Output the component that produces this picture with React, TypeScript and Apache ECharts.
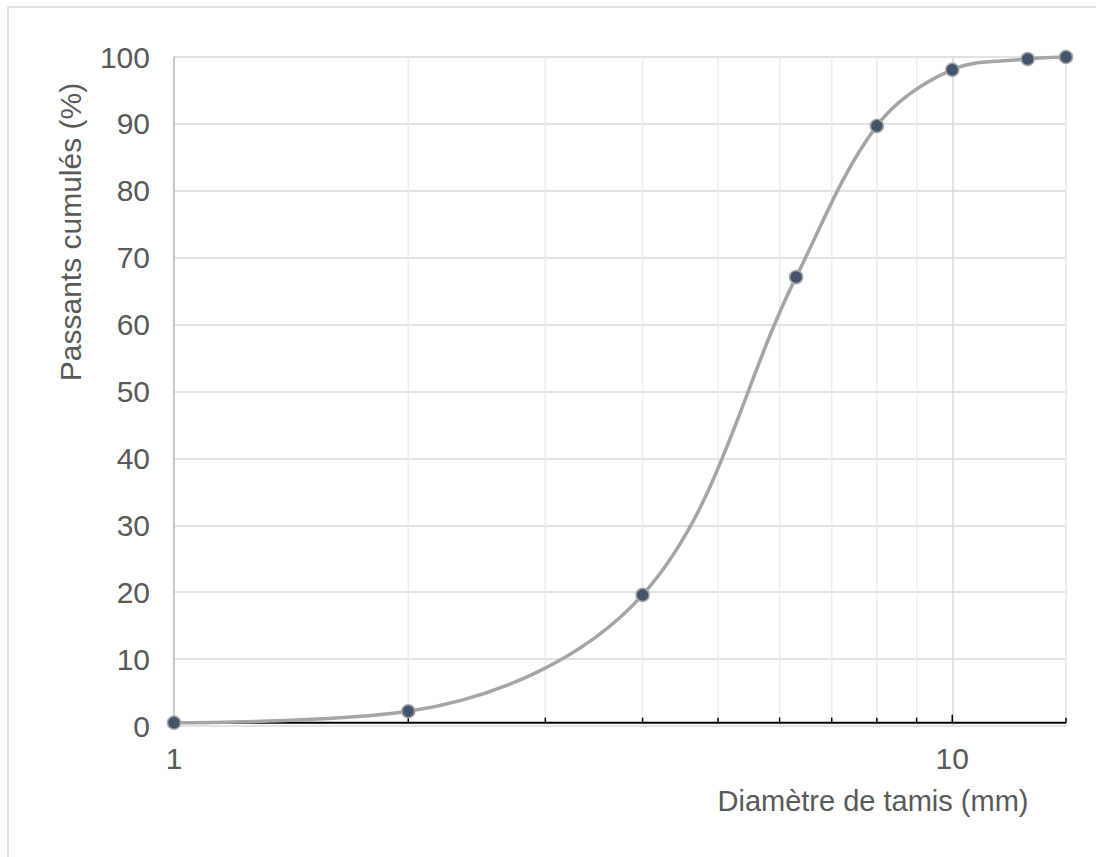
import React, { useEffect, useRef } from "react";
import * as echarts from "echarts";

// Data
const diameters = [1, 2, 4, 6.3, 8, 10, 12.5, 14];
const passing = [0.5, 2.2, 19.6, 67.1, 89.7, 98.1, 99.7, 100];
const xMin = 1;
const xMax = 14;
const xLabelsShown = [1, 10];
const minorGridValues = [2, 3, 4, 5, 6, 7, 8, 9, 14];
const tickValues = [1, 2, 3, 4, 5, 6, 7, 8, 9, 10, 14];
const majorTickValues = [10];
const axisCross = 0.5;
const yTitle = "Passants cumulés (%)";
const xTitle = "Diamètre de tamis (mm)";

const TEXT = "#595959";
const FONT = "'Liberation Sans', Arial, sans-serif";

export default function App() {
  const ref = useRef<HTMLDivElement>(null);
  useEffect(() => {
    if (!ref.current) return;
    const chart = echarts.init(ref.current, undefined, { renderer: "svg" });
    chart.setOption({
      animation: false,
      backgroundColor: "#ffffff",
      textStyle: { fontFamily: FONT },
      grid: { left: 174, right: 30, top: 57, bottom: 131 },
      xAxis: {
        type: "log",
        logBase: 10,
        min: xMin,
        max: xMax,
        axisLine: { show: false },
        axisTick: { show: false },
        splitLine: { show: true, lineStyle: { color: "#d9d9d9", width: 1.5 } },
        axisLabel: {
          color: TEXT,
          fontSize: 30,
          fontFamily: FONT,
          margin: 17,
          showMaxLabel: false,
          formatter: (v: number) =>
            xLabelsShown.some((s) => Math.abs(s - v) < 1e-6) ? String(Math.round(v)) : "",
        },
      },
      yAxis: {
        type: "value",
        min: 0,
        max: 100,
        interval: 10,
        axisLine: { show: true, lineStyle: { color: "#bfbfbf", width: 1.5 } },
        axisTick: { show: false },
        splitLine: { show: true, lineStyle: { color: "#d9d9d9", width: 1.5 } },
        axisLabel: { color: TEXT, fontSize: 30, fontFamily: FONT, margin: 24 },
      },
      graphic: [
        {
          type: "rect",
          shape: { x: 8, y: 7, width: 1200, height: 900 },
          style: { fill: "none", stroke: "#d9d9d9", lineWidth: 1.5 },
          silent: true,
          z: -10,
        },
        {
          type: "text",
          x: 70,
          y: 232,
          rotation: Math.PI / 2,
          style: {
            text: yTitle,
            fill: TEXT,
            font: `30px ${FONT}`,
            align: "center",
            verticalAlign: "middle",
          },
        },
        {
          type: "text",
          x: 873,
          y: 801,
          style: {
            text: xTitle,
            fill: TEXT,
            font: `29px ${FONT}`,
            align: "center",
            verticalAlign: "middle",
          },
        },
      ],
      series: [
        {
          type: "custom",
          name: "minorGrid",
          silent: true,
          z: 1,
          data: minorGridValues.map((v) => [v, 0]),
          renderItem: (params: any, api: any) => {
            const p0 = api.coord([api.value(0), 0]);
            const p1 = api.coord([api.value(0), 100]);
            return {
              type: "line",
              shape: { x1: p0[0], y1: p0[1], x2: p1[0], y2: p1[1] },
              style: { stroke: "#ececec", lineWidth: 1.5 },
            };
          },
        },
        {
          type: "custom",
          name: "axisLine",
          silent: true,
          z: 2,
          data: [[xMin, xMax]],
          renderItem: (params: any, api: any) => {
            const p0 = api.coord([api.value(0), axisCross]);
            const p1 = api.coord([api.value(1), axisCross]);
            return {
              type: "line",
              shape: { x1: p0[0], y1: p0[1], x2: p1[0], y2: p1[1] },
              style: { stroke: "#000000", lineWidth: 2 },
            };
          },
        },
        {
          type: "custom",
          name: "ticks",
          silent: true,
          z: 2,
          data: tickValues.map((v) => [v, axisCross]),
          renderItem: (params: any, api: any) => {
            const v = api.value(0);
            const p = api.coord([v, api.value(1)]);
            const len = majorTickValues.includes(v) ? 8 : 5;
            return {
              type: "line",
              shape: { x1: p[0], y1: p[1], x2: p[0], y2: p[1] - len },
              style: { stroke: "#000000", lineWidth: 1.5 },
            };
          },
        },
        {
          type: "line",
          name: "Passants",
          z: 5,
          data: diameters.map((d, i) => [d, passing[i]]),
          smooth: 0.35,
          symbol: "circle",
          symbolSize: 13,
          lineStyle: { color: "#a5a5a5", width: 3.5 },
          itemStyle: { color: "#44546a", borderColor: "#a5a5a5", borderWidth: 1.5 },
        },
      ],
    });
    return () => chart.dispose();
  }, []);
  return (
    <div
      ref={ref}
      style={{ position: "absolute", left: 0, top: 0, width: 1096, height: 857 }}
    />
  );
}
